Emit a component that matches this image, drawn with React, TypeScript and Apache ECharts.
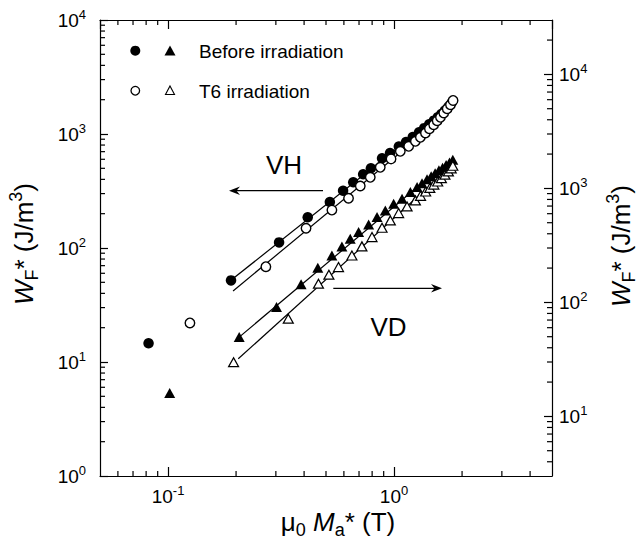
import React, { useEffect, useRef } from 'react';
import * as echarts from 'echarts';

const FONT = '"Liberation Sans", Arial, Helvetica, sans-serif';

// VH, read on the left axis
const vhBeforeX = [0.082, 0.19, 0.31, 0.415, 0.52, 0.595, 0.66, 0.73, 0.79, 0.885, 0.96, 1.05, 1.13, 1.21, 1.29, 1.36, 1.43, 1.5, 1.56, 1.62, 1.68, 1.74, 1.8];
const vhBeforeY = [14.6, 52, 112, 186, 253, 318, 377, 443, 500, 612, 680, 775, 850, 940, 1035, 1125, 1215, 1310, 1400, 1500, 1610, 1730, 1880];
const vhT6X = [0.125, 0.271, 0.408, 0.531, 0.629, 0.709, 0.785, 0.869, 0.97, 1.066, 1.161, 1.243, 1.308, 1.377, 1.434, 1.498, 1.552, 1.605, 1.66, 1.719, 1.777, 1.825];
const vhT6Y = [22, 68.6, 149, 215, 273, 350, 417, 510, 605, 705, 780, 863, 935, 1020, 1113, 1207, 1308, 1401, 1528, 1667, 1807, 1970];

// VD, read on the right axis
const vdBeforeX = [0.1017, 0.2065, 0.302, 0.388, 0.46, 0.531, 0.588, 0.64, 0.697, 0.772, 0.841, 0.915, 0.996, 1.085, 1.181, 1.265, 1.33, 1.4, 1.46, 1.52, 1.58, 1.64, 1.7, 1.76, 1.82];
const vdBeforeY = [16, 49.6, 91, 144, 201, 258, 310, 362, 414, 483, 560, 641, 734, 812, 929, 1026, 1110, 1200, 1280, 1360, 1440, 1520, 1600, 1690, 1780];
const vdT6X = [0.195, 0.3405, 0.463, 0.515, 0.568, 0.651, 0.721, 0.799, 0.885, 0.963, 1.048, 1.142, 1.243, 1.31, 1.38, 1.44, 1.5, 1.56, 1.62, 1.68, 1.74, 1.79, 1.82];
const vdT6Y = [29.9, 72, 146, 175, 204, 258, 310, 374, 452, 524, 607, 695, 785, 860, 940, 1010, 1080, 1150, 1230, 1320, 1410, 1500, 1580];

// straight power-law fits (two end points each)
const fitVhBeforeX = [0.185, 1.3];
const fitVhBeforeY = [50, 1080];
const fitVhT6X = [0.194, 1.3];
const fitVhT6Y = [42, 950];
const fitVdBeforeX = [0.2065, 1.3];
const fitVdBeforeY = [49.6, 1070];
const fitVdT6X = [0.2045, 1.3];
const fitVdT6Y = [32, 880];

// axes
const X_MIN = 0.05;
const X_MAX = 5;
const Y_MIN = 1;
const Y_MAX = 10000;
const Y2_MIN = 3;
const Y2_MAX = 30000;
const X_MINOR = [0.06, 0.07, 0.08, 0.09, 0.2, 0.3, 0.4, 0.5, 0.6, 0.7, 0.8, 0.9, 2, 3, 4];
const Y_MINOR = [2, 3, 4, 5, 6, 7, 8, 9, 20, 30, 40, 50, 60, 70, 80, 90, 200, 300, 400, 500, 600, 700, 800, 900, 2000, 3000, 4000, 5000, 6000, 7000, 8000, 9000];
const Y2_MINOR = [4, 5, 6, 7, 8, 9, 20, 30, 40, 50, 60, 70, 80, 90, 200, 300, 400, 500, 600, 700, 800, 900, 2000, 3000, 4000, 5000, 6000, 7000, 8000, 9000, 20000];

const LEGEND_LABELS = ['Before irradiation', 'T6 irradiation'];
const VH_LABEL = 'VH';
const VD_LABEL = 'VD';

const pairs = (xs: number[], ys: number[]) => xs.map((x, i) => [x, ys[i]]);

const labelRich = {
  b: { fontSize: 19, lineHeight: 24, fontFamily: FONT, color: '#000' },
  s: { fontSize: 13, lineHeight: 13, verticalAlign: 'top', fontFamily: FONT, color: '#000' },
};
const powLabel = (v: number) => {
  const e = Math.round(Math.log10(v));
  return `{b|10}{s|${e}}`;
};

const axisLineStyle = { color: '#000', width: 1.2 };

const tickSeries = (pts: number[][], dx: number, dy: number, yAxisIndex = 0) => ({
  type: 'custom',
  xAxisIndex: 0,
  yAxisIndex,
  silent: true,
  clip: false,
  z: 5,
  data: pts,
  renderItem: (_p: any, api: any) => {
    const p = api.coord([api.value(0), api.value(1)]);
    return {
      type: 'line',
      shape: { x1: p[0], y1: p[1], x2: p[0] + dx, y2: p[1] + dy },
      style: { stroke: '#000', lineWidth: 1.2 },
    };
  },
});

const MINOR = 5;

const titleRich = {
  n: { fontSize: 26, lineHeight: 34, fontFamily: FONT, fill: '#000', color: '#000' },
  it: { fontSize: 26, lineHeight: 34, fontStyle: 'italic', fontFamily: FONT, fill: '#000', color: '#000' },
  sub: { fontSize: 18, lineHeight: 16, verticalAlign: 'bottom', fontFamily: FONT, fill: '#000', color: '#000' },
  sup: { fontSize: 18, lineHeight: 18, verticalAlign: 'top', fontFamily: FONT, fill: '#000', color: '#000' },
};
const yTitle = '{it|W}{sub|F}{n|* (J/m}{sup|3}{n|)}';
const xTitle = '{n|\u03bc}{sub|0}{n| }{it|M}{sub|a}{n|* (T)}';

const textEl = (text: string, x: number, y: number, size: number, align = 'left') => ({
  type: 'text',
  x,
  y,
  style: {
    text,
    fontSize: size,
    fontFamily: FONT,
    fill: '#000',
    textAlign: align,
    align,
    textVerticalAlign: 'middle',
    verticalAlign: 'middle',
  },
});

const titleEl = (text: string, x: number, y: number, rotation: number) => ({
  type: 'text',
  x,
  y,
  rotation,
  style: {
    text,
    rich: titleRich,
    fontFamily: FONT,
    fill: '#000',
    textAlign: 'center',
    align: 'center',
    textVerticalAlign: 'middle',
    verticalAlign: 'middle',
  },
});

const option: any = {
  animation: false,
  backgroundColor: '#fff',
  grid: { left: 100, right: 86, top: 20, bottom: 75, containLabel: false },
  xAxis: [
    {
      type: 'log',
      logBase: 10,
      min: X_MIN,
      max: X_MAX,
      position: 'bottom',
      axisLine: { show: true, lineStyle: axisLineStyle },
      axisTick: { show: true, inside: true, length: 9, lineStyle: axisLineStyle },
      axisLabel: { color: '#000', margin: 8, formatter: powLabel, rich: labelRich, showMinLabel: false, showMaxLabel: false },
      splitLine: { show: false },
    },
    {
      type: 'log',
      logBase: 10,
      min: X_MIN,
      max: X_MAX,
      position: 'top',
      axisLine: { show: true, lineStyle: axisLineStyle },
      axisTick: { show: true, inside: true, length: 9, lineStyle: axisLineStyle },
      axisLabel: { show: false },
      splitLine: { show: false },
    },
  ],
  yAxis: [
    {
      type: 'log',
      logBase: 10,
      min: Y_MIN,
      max: Y_MAX,
      position: 'left',
      axisLine: { show: true, lineStyle: axisLineStyle },
      axisTick: { show: true, inside: true, length: 8, lineStyle: axisLineStyle },
      axisLabel: { color: '#000', margin: 14, formatter: powLabel, rich: labelRich },
      splitLine: { show: false },
    },
    {
      type: 'log',
      logBase: 10,
      min: Y2_MIN,
      max: Y2_MAX,
      position: 'right',
      axisLine: { show: true, lineStyle: axisLineStyle },
      axisTick: { show: true, inside: true, length: 8, lineStyle: axisLineStyle },
      axisLabel: { color: '#000', margin: 7, formatter: powLabel, rich: labelRich, showMinLabel: false, showMaxLabel: false },
      splitLine: { show: false },
    },
  ],
  series: [
    tickSeries(X_MINOR.map((v) => [v, Y_MIN]), 0, -MINOR),
    tickSeries(X_MINOR.map((v) => [v, Y_MAX]), 0, MINOR),
    tickSeries(Y_MINOR.map((v) => [X_MIN, v]), MINOR, 0),
    tickSeries(Y2_MINOR.map((v) => [X_MAX, v]), -MINOR, 0, 1),
    ...[
      [fitVhBeforeX, fitVhBeforeY, 0],
      [fitVhT6X, fitVhT6Y, 0],
      [fitVdBeforeX, fitVdBeforeY, 1],
      [fitVdT6X, fitVdT6Y, 1],
    ].map(([xs, ys, yi]: any) => ({
      type: 'line',
      xAxisIndex: 0,
      yAxisIndex: yi,
      data: pairs(xs, ys),
      showSymbol: false,
      symbol: 'none',
      lineStyle: { color: '#000', width: 1.2, opacity: 1 },
      silent: true,
      z: 2,
    })),
    {
      name: 'VH before',
      type: 'scatter',
      yAxisIndex: 0,
      data: pairs(vhBeforeX, vhBeforeY),
      symbol: 'circle',
      symbolSize: 10.5,
      itemStyle: { color: '#000', opacity: 1 },
      z: 3,
    },
    {
      name: 'VD before',
      type: 'scatter',
      yAxisIndex: 1,
      data: pairs(vdBeforeX, vdBeforeY),
      symbol: 'triangle',
      symbolSize: [11, 10],
      itemStyle: { color: '#000', opacity: 1 },
      z: 3,
    },
    {
      name: 'VH T6',
      type: 'scatter',
      yAxisIndex: 0,
      data: pairs(vhT6X, vhT6Y),
      symbol: 'circle',
      symbolSize: 9.5,
      itemStyle: { color: '#fff', borderColor: '#000', borderWidth: 1.4, opacity: 1 },
      z: 4,
    },
    {
      name: 'VD T6',
      type: 'scatter',
      yAxisIndex: 1,
      data: pairs(vdT6X, vdT6Y),
      symbol: 'triangle',
      symbolSize: [10, 9],
      itemStyle: { color: '#fff', borderColor: '#000', borderWidth: 1.2, opacity: 1 },
      z: 4,
    },
  ],
  graphic: [
    // legend
    { type: 'circle', shape: { cx: 135.3, cy: 50.7, r: 5 }, style: { fill: '#000' } },
    { type: 'polygon', shape: { points: [[170, 45.5], [175.5, 55.5], [164.5, 55.5]] }, style: { fill: '#000' } },
    { type: 'circle', shape: { cx: 135.3, cy: 90.7, r: 4.3 }, style: { fill: '#fff', stroke: '#000', lineWidth: 1.3 } },
    { type: 'polygon', shape: { points: [[170, 86], [174.5, 94.5], [165.5, 94.5]] }, style: { fill: '#fff', stroke: '#000', lineWidth: 1.1 } },
    textEl(LEGEND_LABELS[0], 199, 51, 19),
    textEl(LEGEND_LABELS[1], 199, 91, 19),
    // VH arrow
    textEl(VH_LABEL, 284, 165, 26, 'center'),
    { type: 'line', shape: { x1: 323, y1: 190.7, x2: 233, y2: 190.7 }, style: { stroke: '#000', lineWidth: 1.2 } },
    { type: 'polygon', shape: { points: [[229, 190.7], [240, 186.5], [236.5, 190.7], [240, 195]] }, style: { fill: '#000' } },
    // VD arrow
    textEl(VD_LABEL, 388.5, 327, 26, 'center'),
    { type: 'line', shape: { x1: 333.3, y1: 288.3, x2: 438, y2: 288.3 }, style: { stroke: '#000', lineWidth: 1.2 } },
    { type: 'polygon', shape: { points: [[442, 288.3], [431, 284.1], [434.5, 288.3], [431, 292.5]] }, style: { fill: '#000' } },
    // axis titles
    titleEl(yTitle, 24, 244, Math.PI / 2),
    titleEl(yTitle, 621, 246, Math.PI / 2),
    titleEl(xTitle, 338, 522, 0),
  ],
};

export default function App() {
  const ref = useRef<HTMLDivElement>(null);
  useEffect(() => {
    document.body.style.margin = '0';
    const chart = echarts.init(ref.current as HTMLDivElement, null, { renderer: 'svg' });
    chart.setOption(option);
    return () => chart.dispose();
  }, []);
  return <div ref={ref} style={{ width: 638, height: 551, background: '#fff' }} />;
}
